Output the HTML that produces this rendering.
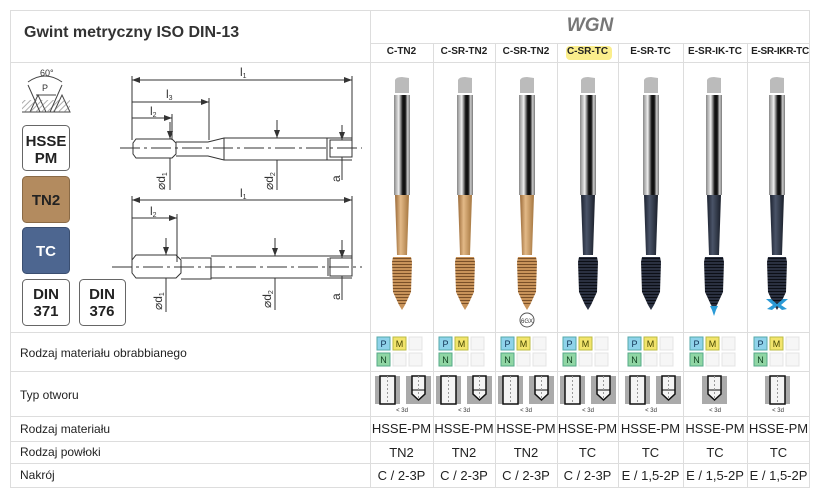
<!DOCTYPE html>
<html><head><meta charset="utf-8"><style>
body{margin:0;background:#fff;width:820px;height:497px;overflow:hidden;font-family:"Liberation Sans",sans-serif;position:relative}
.a{position:absolute}
.t{position:absolute;font-size:13px;color:#222;text-align:center}
.l{position:absolute;left:20px;font-size:12px;color:#222}
.h{position:absolute;top:46px;font-size:10px;font-weight:bold;color:#222;text-align:center}
</style></head><body>
<svg class="a" style="left:0;top:0" width="820" height="497">
<defs>
<marker id="ar" markerWidth="8" markerHeight="6" refX="8" refY="3" orient="auto-start-reverse"><path d="M0 0 L8 3 L0 6Z" fill="#333"/></marker>
<linearGradient id="sil" x1="0" x2="1"><stop offset="0" stop-color="#888"/><stop offset=".3" stop-color="#eee"/><stop offset=".55" stop-color="#111"/><stop offset=".7" stop-color="#111"/><stop offset=".85" stop-color="#ccc"/><stop offset="1" stop-color="#777"/></linearGradient>
<linearGradient id="gold" x1="0" x2="1"><stop offset="0" stop-color="#9a6a38"/><stop offset=".4" stop-color="#e3b987"/><stop offset="1" stop-color="#a5763f"/></linearGradient>
<linearGradient id="dark" x1="0" x2="1"><stop offset="0" stop-color="#1c2230"/><stop offset=".4" stop-color="#4a5468"/><stop offset="1" stop-color="#1a1f2a"/></linearGradient>
<pattern id="thg" width="4" height="3" patternUnits="userSpaceOnUse"><rect width="4" height="3" fill="#c8935a"/><rect width="4" height="1" fill="#7a5028"/></pattern>
<pattern id="thd" width="4" height="3" patternUnits="userSpaceOnUse"><rect width="4" height="3" fill="#2a3040"/><rect width="4" height="1" fill="#0c0f16"/></pattern>
<pattern id="hat" width="4" height="4" patternUnits="userSpaceOnUse" patternTransform="rotate(45)"><rect width="1" height="4" fill="#777"/></pattern>
<g id="tg"><path d="M-7 80 Q-6 77 0 77 L7 78 L7 93 L-7 93Z" fill="#bbb"/><rect x="-8" y="95" width="16" height="100" fill="url(#sil)"/><path d="M-7 195 L7 195 L5 255 L-5 255Z" fill="url(#gold)"/><path d="M-9 257 L9 257 L10 262 L9 292 L3 305 L-3 305 L-9 292 L-10 262Z" fill="url(#thg)"/><path d="M-3 305 L3 305 L0 310Z" fill="#c8935a"/></g>
<g id="td"><path d="M-7 80 Q-6 77 0 77 L7 78 L7 93 L-7 93Z" fill="#bbb"/><rect x="-8" y="95" width="16" height="100" fill="url(#sil)"/><path d="M-7 195 L7 195 L5 255 L-5 255Z" fill="url(#dark)"/><path d="M-9 257 L9 257 L10 262 L9 292 L3 305 L-3 305 L-9 292 L-10 262Z" fill="url(#thd)"/><path d="M-3 305 L3 305 L0 310Z" fill="#2a3040"/></g>
<g id="mat"><rect x="0" y="0" width="13" height="13" fill="#8fd3ea" stroke="#5aa"/><text x="6.5" y="10" font-size="9" text-anchor="middle" fill="#135">P</text><rect x="16" y="0" width="13" height="13" fill="#f2e46c" stroke="#bb4"/><text x="22.5" y="10" font-size="9" text-anchor="middle" fill="#440">M</text><rect x="32" y="0" width="13" height="13" fill="#f6f6f6" stroke="#e4e4e4"/><rect x="0" y="16" width="13" height="13" fill="#90d6a4" stroke="#5a8"/><text x="6.5" y="26" font-size="9" text-anchor="middle" fill="#142">N</text><rect x="16" y="16" width="13" height="13" fill="#f6f6f6" stroke="#e4e4e4"/><rect x="32" y="16" width="13" height="13" fill="#f6f6f6" stroke="#e4e4e4"/></g>
<g id="thru"><rect x="0" y="0" width="25" height="28" fill="#aaa"/><rect x="5" y="0" width="15" height="28" fill="#f4f4f4" stroke="#111" stroke-width="1.5"/><line x1="12.5" y1="0" x2="12.5" y2="28" stroke="#999" stroke-dasharray="2 2"/></g>
<g id="blind"><rect x="0" y="0" width="25" height="28" fill="#aaa"/><path d="M6 0 L6 18 L12.5 24 L19 18 L19 0Z" fill="#f4f4f4" stroke="#111" stroke-width="1.5"/><line x1="6" y1="14" x2="19" y2="14" stroke="#111"/><line x1="12.5" y1="0" x2="12.5" y2="24" stroke="#999" stroke-dasharray="2 2"/></g>
</defs>
<g stroke="#ddd" fill="none">
<rect x="10.5" y="10.5" width="799" height="477"/>
<line x1="370.5" y1="10" x2="370.5" y2="487"/>
<line x1="10" y1="62.5" x2="810" y2="62.5"/>
<line x1="370" y1="43.5" x2="810" y2="43.5"/>
<line x1="10" y1="332.5" x2="810" y2="332.5"/>
<line x1="10" y1="371.5" x2="810" y2="371.5"/>
<line x1="10" y1="416.5" x2="810" y2="416.5"/>
<line x1="10" y1="441.5" x2="810" y2="441.5"/>
<line x1="10" y1="463.5" x2="810" y2="463.5"/>
<line x1="433.5" y1="43" x2="433.5" y2="487"/><line x1="495.5" y1="43" x2="495.5" y2="487"/><line x1="557.5" y1="43" x2="557.5" y2="487"/><line x1="618.5" y1="43" x2="618.5" y2="487"/><line x1="683.5" y1="43" x2="683.5" y2="487"/><line x1="747.5" y1="43" x2="747.5" y2="487"/>
</g>
<rect x="566" y="46" width="46" height="14" rx="4" fill="#fbee8c"/>
<use href="#tg" x="402"/><use href="#tg" x="465"/><use href="#tg" x="527"/><use href="#td" x="588"/><use href="#td" x="651"/><use href="#td" x="714"/><use href="#td" x="777"/>
<path d="M710 306 L718 306 L716 310 L714 316 L712 310Z" fill="#2a9ad6"/>
<path d="M766 299 L771 299 L777 304 L783 299 L788 299 L781 305 L787 309 L782 310 L777 306 L772 310 L767 309 L773 305Z" fill="#2a9ad6"/>
<circle cx="527" cy="320" r="7" fill="#fff" stroke="#555"/><text x="527" y="323" font-size="6" text-anchor="middle" fill="#333">6GX</text>
<use href="#mat" x="377" y="337"/><use href="#mat" x="439" y="337"/><use href="#mat" x="501" y="337"/><use href="#mat" x="563" y="337"/><use href="#mat" x="628" y="337"/><use href="#mat" x="690" y="337"/><use href="#mat" x="754" y="337"/>
<use href="#thru" x="375" y="376"/><use href="#blind" x="406" y="376"/>
<use href="#thru" x="436" y="376"/><use href="#blind" x="467" y="376"/>
<use href="#thru" x="498" y="376"/><use href="#blind" x="529" y="376"/>
<use href="#thru" x="560" y="376"/><use href="#blind" x="591" y="376"/>
<use href="#thru" x="625" y="376"/><use href="#blind" x="656" y="376"/>
<use href="#blind" x="702" y="376"/>
<use href="#thru" x="765" y="376"/>
<g font-size="6" fill="#333" text-anchor="middle"><text x="402" y="412">&lt; 3d</text><text x="464" y="412">&lt; 3d</text><text x="526" y="412">&lt; 3d</text><text x="588" y="412">&lt; 3d</text><text x="651" y="412">&lt; 3d</text><text x="715" y="412">&lt; 3d</text><text x="778" y="412">&lt; 3d</text></g>
<g stroke="#444" fill="none">
<path d="M22 112 L70 112 L62 95 L54 112 M30 112 L38 95 L46 112" />
<rect x="22" y="100" width="48" height="12" fill="url(#hat)" stroke="none" opacity=".6"/>
<path d="M28 85 L40 112 M62 85 L50 112"/>
<path d="M28 82 Q45 70 62 82"/>
<line x1="36" y1="95" x2="56" y2="95"/>
</g>
<text x="40" y="76" font-size="9" fill="#333">60°</text><text x="42" y="91" font-size="9" fill="#333">P</text>
<rect x="22.5" y="125.5" width="47" height="45" rx="4" fill="#fff" stroke="#666"/>
<rect x="22.5" y="176.5" width="47" height="46" rx="4" fill="#b38b5f" stroke="#8a6a46"/>
<rect x="22.5" y="227.5" width="47" height="46" rx="4" fill="#4d6690" stroke="#3a4e70"/>
<rect x="22.5" y="279.5" width="47" height="46" rx="4" fill="#fff" stroke="#666"/>
<rect x="79.5" y="279.5" width="46" height="46" rx="4" fill="#fff" stroke="#666"/>
<g font-size="15" font-weight="bold" text-anchor="middle" fill="#222">
<text x="46" y="146">HSSE</text><text x="46" y="163">PM</text>
<text x="46" y="205">TN2</text><text x="46" y="256" fill="#fff">TC</text>
<text x="46" y="299">DIN</text><text x="46" y="316">371</text>
<text x="102" y="299">DIN</text><text x="102" y="316">376</text></g>
<g stroke="#333" fill="none" stroke-width="1">
<line x1="132" y1="80" x2="352" y2="80" marker-start="url(#ar)" marker-end="url(#ar)"/><line x1="132" y1="76" x2="132" y2="140"/><line x1="352" y1="76" x2="352" y2="140"/>
<line x1="132" y1="102" x2="209" y2="102" marker-end="url(#ar)"/><line x1="209" y1="98" x2="209" y2="140"/>
<line x1="132" y1="118" x2="172" y2="118" marker-end="url(#ar)"/><line x1="172" y1="114" x2="172" y2="140"/>
<path d="M136 139 L172 139 L176 143 L176 154 L172 158 L136 158 L133 154 L133 143Z"/>
<path d="M176 142 L208 142 L224 138 L352 138 M176 156 L208 156 L224 160 L352 160"/>
<line x1="224" y1="138" x2="224" y2="160"/>
<path d="M327 138 L327 160 M330 140 L352 140 L352 157 L330 157Z"/>
<line x1="120" y1="148" x2="362" y2="148" stroke-dasharray="20 4 3 4"/>
<line x1="170" y1="122" x2="170" y2="139" marker-end="url(#ar)"/><line x1="170" y1="158" x2="170" y2="190"/>
<line x1="277" y1="120" x2="277" y2="138" marker-end="url(#ar)"/><line x1="277" y1="160" x2="277" y2="190"/>
<line x1="342" y1="125" x2="342" y2="140" marker-end="url(#ar)"/><line x1="342" y1="157" x2="342" y2="180"/>
<line x1="132" y1="200" x2="352" y2="200" marker-start="url(#ar)" marker-end="url(#ar)"/><line x1="132" y1="196" x2="132" y2="262"/><line x1="352" y1="196" x2="352" y2="262"/>
<line x1="132" y1="218" x2="177" y2="218" marker-end="url(#ar)"/><line x1="177" y1="214" x2="177" y2="262"/>
<path d="M136 255 L176 255 L181 260 L181 273 L176 278 L136 278 L132 273 L132 260Z"/>
<path d="M181 258 L211 258 L211 279 L181 279 M211 256 L352 256 M211 278 L352 278"/>
<path d="M328 258 L328 276 M330 258 L352 258 L352 276 L330 276Z"/>
<line x1="112" y1="267" x2="362" y2="267" stroke-dasharray="20 4 3 4"/>
<line x1="166" y1="238" x2="166" y2="255" marker-end="url(#ar)"/><line x1="166" y1="278" x2="166" y2="312"/>
<line x1="275" y1="238" x2="275" y2="256" marker-end="url(#ar)"/><line x1="275" y1="278" x2="275" y2="310"/>
<line x1="342" y1="240" x2="342" y2="258" marker-end="url(#ar)"/><line x1="342" y1="276" x2="342" y2="300"/>
</g>
<g font-size="12" fill="#333"><text x="240" y="76">l<tspan font-size="7" dy="2">1</tspan></text><text x="166" y="98">l<tspan font-size="7" dy="2">3</tspan></text><text x="150" y="115">l<tspan font-size="7" dy="2">2</tspan></text><text x="240" y="197">l<tspan font-size="7" dy="2">1</tspan></text><text x="150" y="215">l<tspan font-size="7" dy="2">2</tspan></text></g>
<g font-size="12" fill="#333"><text transform="translate(165 190) rotate(-90)">⌀d<tspan font-size="7" dy="2">1</tspan></text><text transform="translate(273 190) rotate(-90)">⌀d<tspan font-size="7" dy="2">2</tspan></text><text transform="translate(340 182) rotate(-90)">a</text><text transform="translate(162 310) rotate(-90)">⌀d<tspan font-size="7" dy="2">1</tspan></text><text transform="translate(271 308) rotate(-90)">⌀d<tspan font-size="7" dy="2">2</tspan></text><text transform="translate(340 300) rotate(-90)">a</text></g>
</svg>
<div class="a" style="left:24px;top:24px;font-size:16px;font-weight:bold;color:#333">Gwint metryczny ISO DIN-13</div>
<div class="a" style="left:370px;width:440px;top:15px;text-align:center;font-size:19px;font-style:italic;font-weight:bold;color:#777">WGN</div>
<div class="h" style="left:370px;width:63px">C-TN2</div>
<div class="h" style="left:433px;width:62px">C-SR-TN2</div>
<div class="h" style="left:495px;width:62px">C-SR-TN2</div>
<div class="h" style="left:557px;width:61px">C-SR-TC</div>
<div class="h" style="left:618px;width:65px">E-SR-TC</div>
<div class="h" style="left:683px;width:64px">E-SR-IK-TC</div>
<div class="h" style="left:747px;width:66px;letter-spacing:-.3px">E-SR-IKR-TC</div>
<div class="l" style="top:346px">Rodzaj materiału obrabbianego</div>
<div class="l" style="top:388px">Typ otworu</div>
<div class="l" style="top:422px">Rodzaj materiału</div>
<div class="l" style="top:445px">Rodzaj powłoki</div>
<div class="l" style="top:468px">Nakrój</div>
<div class="t" style="top:421px;left:370px;width:63px">HSSE-PM</div><div class="t" style="top:421px;left:433px;width:62px">HSSE-PM</div><div class="t" style="top:421px;left:495px;width:62px">HSSE-PM</div><div class="t" style="top:421px;left:557px;width:61px">HSSE-PM</div><div class="t" style="top:421px;left:618px;width:65px">HSSE-PM</div><div class="t" style="top:421px;left:683px;width:64px">HSSE-PM</div><div class="t" style="top:421px;left:747px;width:63px">HSSE-PM</div>
<div class="t" style="top:445px;left:370px;width:63px">TN2</div><div class="t" style="top:445px;left:433px;width:62px">TN2</div><div class="t" style="top:445px;left:495px;width:62px">TN2</div><div class="t" style="top:445px;left:557px;width:61px">TC</div><div class="t" style="top:445px;left:618px;width:65px">TC</div><div class="t" style="top:445px;left:683px;width:64px">TC</div><div class="t" style="top:445px;left:747px;width:63px">TC</div>
<div class="t" style="top:468px;left:370px;width:63px">C / 2-3P</div><div class="t" style="top:468px;left:433px;width:62px">C / 2-3P</div><div class="t" style="top:468px;left:495px;width:62px">C / 2-3P</div><div class="t" style="top:468px;left:557px;width:61px">C / 2-3P</div><div class="t" style="top:468px;left:618px;width:65px">E / 1,5-2P</div><div class="t" style="top:468px;left:683px;width:64px">E / 1,5-2P</div><div class="t" style="top:468px;left:747px;width:63px">E / 1,5-2P</div>
</body></html>
